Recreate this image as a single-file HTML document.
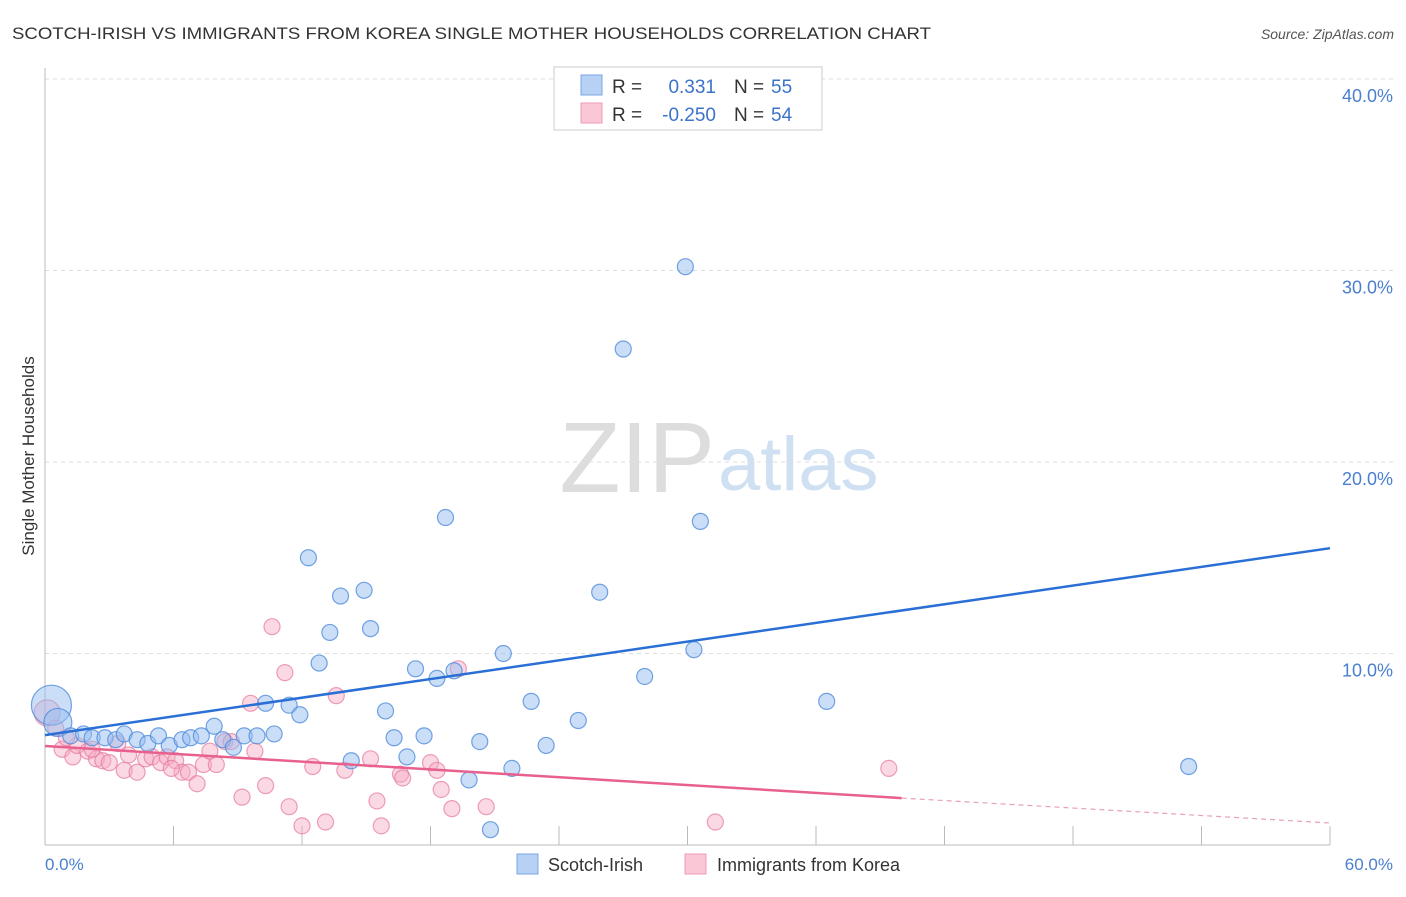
<!DOCTYPE html>
<html><head><meta charset="utf-8"><style>
body{margin:0;background:#fff;font-family:"Liberation Sans",sans-serif}
svg text{font-family:"Liberation Sans",sans-serif}
</style></head><body>
<svg id="chart" width="1406" height="892" viewBox="0 0 1406 892">
<text x="12" y="39" font-size="17" fill="#333" textLength="919" lengthAdjust="spacingAndGlyphs">SCOTCH-IRISH VS IMMIGRANTS FROM KOREA SINGLE MOTHER HOUSEHOLDS CORRELATION CHART</text>
<text x="1394" y="39" font-size="14" fill="#555" text-anchor="end" font-style="italic">Source: ZipAtlas.com</text>
<text x="715" y="492" font-size="100" fill="#ddd" text-anchor="end" font-family="Liberation Serif">ZIP</text>
<text x="718" y="490" font-size="76" fill="#cfe0f3">atlas</text>
<g id="grid"></g>
<line x1="45" y1="68" x2="45" y2="845" stroke="#bbb"/>
<line x1="45" y1="845" x2="1330" y2="845" stroke="#bbb"/>
<text transform="translate(34,456) rotate(-90)" font-size="17" fill="#333" text-anchor="middle">Single Mother Households</text>
<text x="45" y="870" font-size="17" fill="#4a7fd0">0.0%</text>
<text x="1393" y="870" font-size="17" fill="#4a7fd0" text-anchor="end">60.0%</text>
<g id="pts"></g>
<g id="lines"></g>
<g>
<rect x="554" y="67" width="268" height="63" fill="#fff" stroke="#ccc"/>
<rect x="581" y="75" width="21" height="20" fill="#b7d1f5" stroke="#7aa6e6"/>
<rect x="581" y="103" width="21" height="20" fill="#fac7d6" stroke="#f09bb6"/>
<text x="612" y="93" font-size="19" fill="#333">R =</text>
<text x="716" y="93" font-size="19" fill="#3b73c9" text-anchor="end">0.331</text>
<text x="734" y="93" font-size="19" fill="#333">N =</text><text x="771" y="93" font-size="19" fill="#3b73c9">55</text>
<text x="612" y="121" font-size="19" fill="#333">R =</text>
<text x="716" y="121" font-size="19" fill="#3b73c9" text-anchor="end">-0.250</text>
<text x="734" y="121" font-size="19" fill="#333">N =</text><text x="771" y="121" font-size="19" fill="#3b73c9">54</text>
</g>
<g>
<rect x="517" y="854" width="21" height="20" fill="#b7d1f5" stroke="#7aa6e6"/>
<text x="548" y="871" font-size="18" fill="#333">Scotch-Irish</text>
<rect x="685" y="854" width="21" height="20" fill="#fac7d6" stroke="#f09bb6"/>
<text x="717" y="871" font-size="18" fill="#333">Immigrants from Korea</text>
</g>
</svg>
<script>
const yTicks=[10,20,30,40];
const xTickVals=[0,6,12,18,24,30,36,42,48,54,60];
const blueX=[0.3,0.6,1.2,1.8,2.2,2.8,3.3,3.7,4.3,4.8,5.3,5.8,6.4,6.8,7.3,7.9,8.3,8.8,9.3,9.9,10.3,10.7,11.4,11.9,12.3,12.8,13.3,13.8,14.3,14.9,15.2,15.9,16.3,16.9,17.3,17.7,18.3,18.7,19.1,19.8,20.3,20.8,21.4,21.8,22.7,23.4,24.9,25.9,27.0,28.0,29.9,30.3,30.6,36.5,53.4];
const blueY=[7.3,6.4,5.7,5.8,5.6,5.6,5.5,5.8,5.5,5.3,5.7,5.2,5.5,5.6,5.7,6.2,5.5,5.1,5.7,5.7,7.4,5.8,7.3,6.8,15.0,9.5,11.1,13.0,4.4,13.3,11.3,7.0,5.6,4.6,9.2,5.7,8.7,17.1,9.1,3.4,5.4,0.8,10.0,4.0,7.5,5.2,6.5,13.2,25.9,8.8,30.2,10.2,16.9,7.5,4.1];
const pinkX=[0.1,0.5,0.8,1.3,1.5,2.0,2.4,2.7,3.0,3.4,3.7,3.9,4.3,4.7,5.0,5.4,5.7,6.1,6.4,6.7,7.1,7.4,7.7,8.0,8.4,8.7,9.2,9.6,9.8,10.3,10.6,11.2,11.4,12.0,12.5,13.1,13.6,14.0,15.2,15.5,15.7,16.6,16.7,18.0,18.3,18.5,19.0,19.3,20.6,31.3,39.4,1.0,2.2,5.9];
const pinkY=[6.9,6.1,5.0,4.6,5.2,4.9,4.5,4.4,4.3,5.3,3.9,4.7,3.8,4.5,4.6,4.3,4.6,4.4,3.8,3.8,3.2,4.2,4.9,4.2,5.4,5.4,2.5,7.4,4.9,3.1,11.4,9.0,2.0,1.0,4.1,1.2,7.8,3.9,4.5,2.3,1.0,3.7,3.5,4.3,3.9,2.9,1.9,9.2,2.0,1.2,4.0,5.6,5.0,4.0];
const X=v=>45+v/60*1285, Y=v=>845-v*19.15;
const NS='http://www.w3.org/2000/svg';
const grid=document.getElementById('grid');
yTicks.forEach(t=>{
 const l=document.createElementNS(NS,'line');
 
 
 l.setAttribute('x1',45);l.setAttribute('x2',1395);l.setAttribute('y1',Y(t));l.setAttribute('y2',Y(t));
 l.setAttribute('stroke','#ddd');l.setAttribute('stroke-dasharray','4,4');grid.appendChild(l);
 const tx=document.createElementNS(NS,'text');
 
 
 tx.setAttribute('x',1393);tx.setAttribute('y',Y(t)+23);tx.setAttribute('text-anchor','end');
 tx.setAttribute('font-size','18');tx.setAttribute('fill','#4a7fd0');tx.textContent=t.toFixed(1)+'%';grid.appendChild(tx);
});
xTickVals.forEach(t=>{
 const l=document.createElementNS(NS,'line');
 
 
 l.setAttribute('x1',X(t));l.setAttribute('x2',X(t));l.setAttribute('y1',826);l.setAttribute('y2',845);
 l.setAttribute('stroke','#bbb');grid.appendChild(l);
});
const pts=document.getElementById('pts');
function dot(x,y,r,fill,stroke,name){
 const c=document.createElementNS(NS,'circle');
 
 
 c.setAttribute('cx',X(x));c.setAttribute('cy',Y(y));c.setAttribute('r',r);
 c.setAttribute('fill',fill);c.setAttribute('stroke',stroke);c.setAttribute('stroke-width','1.2');pts.appendChild(c);
}
pinkX.forEach((x,i)=>dot(x,pinkY[i],i==0?13:8,'rgba(246,170,195,0.45)','rgba(230,120,155,0.7)','korea-point'));
blueX.forEach((x,i)=>dot(x,blueY[i],i==0?20:(i==1?14:8),'rgba(150,190,240,0.5)','rgba(80,140,220,0.8)','scotch-irish-point'));
const lines=document.getElementById('lines');
function ln(x1,y1,x2,y2,col,w,dash,name){
 const l=document.createElementNS(NS,'line');
 
 
 l.setAttribute('x1',X(x1));l.setAttribute('y1',Y(y1));l.setAttribute('x2',X(x2));l.setAttribute('y2',Y(y2));
 l.setAttribute('stroke',col);l.setAttribute('stroke-width',w);if(dash)l.setAttribute('stroke-dasharray',dash);lines.appendChild(l);
}
ln(0,5.74,60,15.5,'#2a6fd6',2.5,null,'scotch-irish-trendline');
ln(0,5.17,40,2.45,'#e8608e',2.5,null,'korea-trendline');
ln(40,2.45,60,1.15,'#e8a0b8',1.2,'5,4','korea-trendline-extension');
</script>
</body></html>
